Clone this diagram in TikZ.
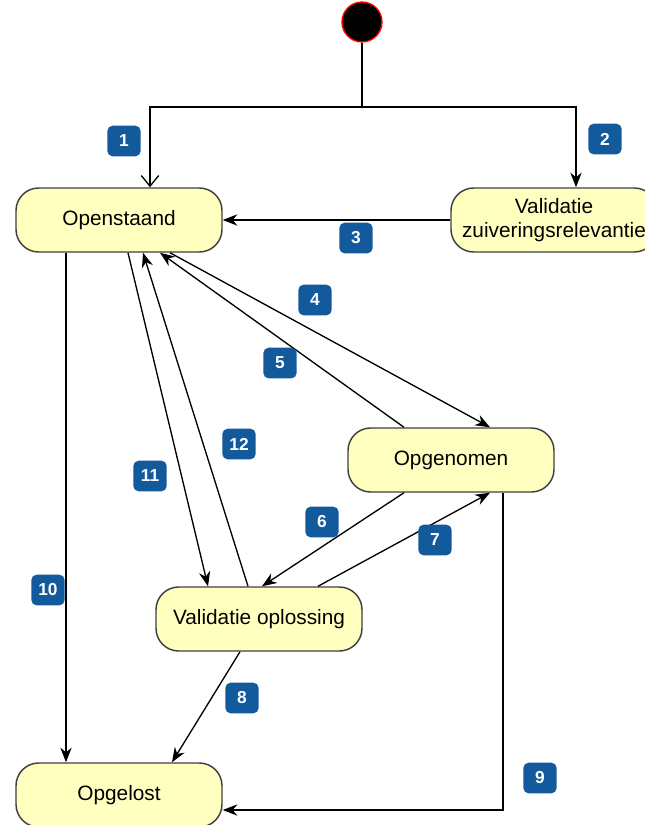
\documentclass[tikz,border=0pt]{standalone}
\usepackage{fontspec}
\setmainfont{Liberation Sans}
\usetikzlibrary{arrows.meta}
\definecolor{stateyellow}{HTML}{FFFFC0}
\definecolor{numblue}{HTML}{135A9C}
\tikzset{>={Stealth[length=11pt, width=8.5pt]}}
\tikzset{
    state/.style={draw=black!75, fill=stateyellow, line width=1.1pt, rounded corners=17pt,
        minimum width=154.5pt, minimum height=48pt, align=center, font=\fontsize{15.6}{18.5}\selectfont},
    num/.style={fill=numblue, rounded corners=4pt, text=white, minimum width=25pt, minimum height=23pt,
        inner sep=0pt, font=\fontsize{13}{13}\selectfont\bfseries},
}
\begin{document}
\begin{tikzpicture}[x=.75pt, y=-.75pt, line width=1pt]
    \useasboundingbox(0, 0)rectangle(644, 825);
    % states
    \node[circle, fill=black, draw=red, line width=1pt, minimum size=30pt, inner sep=0pt](init)at(362, 22){};
    \node[state](open)at(119, 220){Openstaand};
    \node[state](valz)at(554, 220){Validatie\\zuiveringsrelevantie};
    \node[state](taken)at(451, 460){Opgenomen};
    \node[state](valo)at(259, 619){Validatie oplossing};
    \node[state](done)at(119, 795){Opgelost};
    % start
    \coordinate(fork)at(362, 107);
    \draw(init)--(fork);
    \draw[-{Straight Barb[length=8pt, width=13pt]}](fork)-|(150, 0 |- open.north);
    \draw[->](fork)-|(576, 0 |- valz.north);
    % transitions
    \draw[->](valz)--(open);
    \draw[->](170, 0 |- open.south)--(490, 0 |- taken.north);
    \draw[->](404, 0 |- taken.north)--(160, 0 |- open.south);
    \draw[->](404, 0 |- taken.south)--(262, 0 |- valo.north);
    \draw[->](318, 0 |- valo.north)--(490, 0 |- taken.south);
    \draw[->](240, 0 |- valo.south)--(172, 0 |- done.north);
    \draw[->](503, 0 |- taken.south)|-(0, 810 -| done.east);
    \draw[->](66, 0 |- open.south)--(66, 0 |- done.north);
    \draw[->](128, 0 |- open.south)--(208, 0 |- valo.north);
    \draw[->](248, 0 |- valo.north)--(143, 0 |- open.south);
    % numbers
    \foreach \n/\x/\y in {1/124/141, 2/605/139, 3/356/238, 4/315/300, 5/280/363, 6/322/522,
        7/435/540, 8/242/698, 9/540/778, 10/48/590, 11/150/476, 12/239/444}
        \node[num](n\n)at(\x, \y){\n};
\end{tikzpicture}
\end{document}
